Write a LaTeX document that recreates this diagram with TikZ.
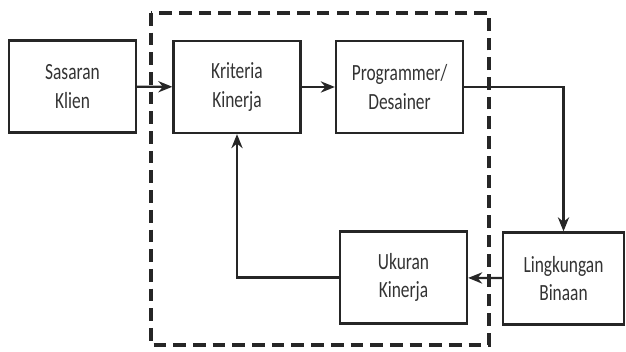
\documentclass[tikz,border=0pt]{standalone}
\usepackage{fontspec}
\setmainfont{Carlito}[FakeStretch=0.75]
\usetikzlibrary{arrows.meta,positioning}

\begin{document}
\begin{tikzpicture}[x=0.025cm, y=-0.025cm, font=\fontsize{16.5}{20}\selectfont,
    blok/.style={draw=black!85, line width=1.6pt, align=center, text=black!80,
      minimum width=3.175cm, minimum height=2.3cm, inner sep=0pt},
    panah/.style={line width=1.6pt, draw=black!85, -{Stealth[length=10pt,width=8pt]}},
    batas/.style={line width=2.6pt, draw=black!85, dash pattern=on 9pt off 5pt}]
  \useasboundingbox (0,0) rectangle (626,352);
  % system boundary
  \draw[batas] (151,13) rectangle (489,345);
  % blocks
  \node[blok] (sasaran) at (72.5,86.5) {Sasaran\\Klien};
  \node[blok] (kriteria) at (237,87) {Kriteria\\Kinerja};
  \node[blok] (programmer) at (399.5,87) {Programmer/\\Desainer};
  \node[blok] (ukuran) at (403.5,277.5) {Ukuran\\Kinerja};
  \node[blok, minimum width=3.025cm] (lingkungan) at (563.5,278.5) {Lingkungan\\Binaan};
  % connectors
  \draw[panah] (sasaran) -- (kriteria);
  \draw[panah] (kriteria) -- (programmer);
  \draw[panah] (programmer.east) -| (lingkungan.north);
  \draw[panah] (lingkungan) -- (ukuran);
  \draw[panah] (ukuran.west) -| (kriteria.south);
\end{tikzpicture}
\end{document}
